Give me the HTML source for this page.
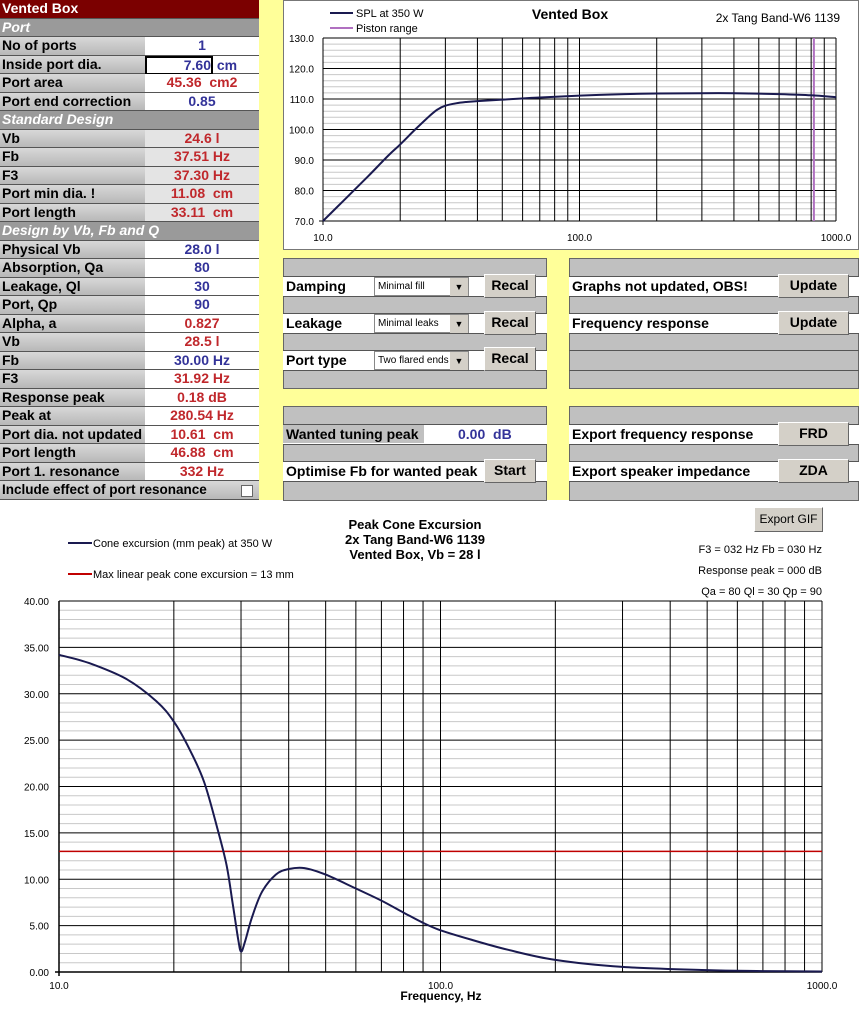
<!DOCTYPE html>
<html><head><meta charset="utf-8">
<style>
body{margin:0;width:859px;height:1023px;overflow:hidden;background:#fff;font-family:"Liberation Sans",Arial,sans-serif;position:relative}
.a{position:absolute;box-sizing:border-box}
.lab{font-weight:bold;font-size:14px;color:#000;background:linear-gradient(#d8d8d8,#b8b8b8);border-bottom:1px solid #555;padding-left:2px;line-height:17px;white-space:nowrap}
.sec{font-weight:bold;font-style:italic;font-size:14px;color:#fff;background:#9a9a9a;border-bottom:1px solid #555;padding-left:2px;line-height:17px}
.val{font-weight:bold;font-size:14px;text-align:center;border-bottom:1px solid #555;line-height:17px;white-space:pre}
.panel{background:#c0c0c0;border:1px solid #666}
.row{background:#fff;border-top:1px solid #555;border-bottom:1px solid #555;font-weight:bold;font-size:14px;line-height:18px;padding-left:3px}
.btn{background:#d4d0c8;border:1px solid #fff;border-right-color:#666;border-bottom-color:#666;font-weight:bold;font-size:14px;text-align:center;line-height:20px}
.sel{background:#fff;border:1px solid #888;font-size:10px;line-height:18px;padding-left:3px}
.arr{position:absolute;right:0;top:0;width:18px;height:18px;background:#d4d0c8;font-size:9px;text-align:center;line-height:18px}
</style></head><body>
<div class="a" style="left:0;top:0;width:283px;height:500px;background:#ffff99"></div>
<div class="a" style="left:283px;top:250px;width:576px;height:250px;background:#ffff99"></div>
<div id="tbl"></div>

<div class="a" style="left:283px;top:0;width:576px;height:250px;background:#fff;border:1px solid #777"></div>
<svg class="a" id="top" style="left:0;top:0" width="859" height="250"></svg>

<div class="a panel" style="left:283px;top:258px;width:264px;height:131px"></div>
<div class="a row" style="left:283px;top:276px;width:264px;height:21px">Damping</div>
<div class="a sel" style="left:374px;top:277px;width:95px;height:19px">Minimal fill<span class="arr">▼</span></div>
<div class="a btn" style="left:484px;top:274px;width:52px;height:24px">Recal</div>
<div class="a row" style="left:283px;top:313px;width:264px;height:21px">Leakage</div>
<div class="a sel" style="left:374px;top:314px;width:95px;height:19px">Minimal leaks<span class="arr">▼</span></div>
<div class="a btn" style="left:484px;top:311px;width:52px;height:24px">Recal</div>
<div class="a row" style="left:283px;top:350px;width:264px;height:21px">Port type</div>
<div class="a sel" style="left:374px;top:351px;width:95px;height:19px">Two flared ends<span class="arr">▼</span></div>
<div class="a btn" style="left:484px;top:347px;width:52px;height:24px">Recal</div>

<div class="a panel" style="left:569px;top:258px;width:290px;height:131px"></div>
<div class="a row" style="left:569px;top:276px;width:290px;height:21px">Graphs not updated, OBS!</div>
<div class="a btn" style="left:778px;top:274px;width:71px;height:24px">Update</div>
<div class="a row" style="left:569px;top:313px;width:290px;height:21px">Frequency response</div>
<div class="a btn" style="left:778px;top:311px;width:71px;height:24px">Update</div>
<div class="a" style="left:569px;top:350px;width:290px;height:21px;border-top:1px solid #555;border-bottom:1px solid #555"></div>

<div class="a panel" style="left:283px;top:406px;width:264px;height:95px"></div>
<div class="a row" style="left:283px;top:424px;width:264px;height:21px"><span style="background:#c0c0c0;display:inline-block;width:138px;margin-left:-3px;padding-left:3px">Wanted tuning peak</span><span style="color:#333399;margin-left:34px">0.00&nbsp; dB</span></div>
<div class="a row" style="left:283px;top:461px;width:264px;height:21px">Optimise Fb for wanted peak</div>
<div class="a btn" style="left:484px;top:459px;width:52px;height:24px">Start</div>

<div class="a panel" style="left:569px;top:406px;width:290px;height:95px"></div>
<div class="a row" style="left:569px;top:424px;width:290px;height:21px">Export frequency response</div>
<div class="a btn" style="left:778px;top:422px;width:71px;height:24px">FRD</div>
<div class="a row" style="left:569px;top:461px;width:290px;height:21px">Export speaker impedance</div>
<div class="a btn" style="left:778px;top:459px;width:71px;height:24px">ZDA</div>

<div class="a btn" style="left:754px;top:507px;width:69px;height:25px;font-weight:normal;font-size:12px;line-height:23px">Export GIF</div>
<svg class="a" id="bot" style="left:0;top:500px" width="859" height="523"></svg>

<script>
// ---------- table ----------
const rowLabels=["Vented Box","Port","No of ports","Inside port dia.","Port area","Port end correction","Standard Design","Vb","Fb","F3","Port min dia. !","Port length","Design by Vb, Fb and Q","Physical Vb","Absorption, Qa","Leakage, Ql","Port, Qp","Alpha, a","Vb","Fb","F3","Response peak","Peak at","Port dia. not updated","Port length","Port 1. resonance","Include effect of port resonance"];
const rowValues=["","","1","7.60 cm","45.36  cm2","0.85","","24.6 l","37.51 Hz","37.30 Hz","11.08  cm","33.11  cm","","28.0 l","80","30","90","0.827","28.5 l","30.00 Hz","31.92 Hz","0.18 dB","280.54 Hz","10.61  cm","46.88  cm","332 Hz",""];
const rowKind=["h","s","b","b","r","b","s","g","g","g","g","g","s","b","b","b","b","r","r","b","r","r","r","r","r","r","c"];
const tbl=document.getElementById('tbl');
const RH=18.5;
rowLabels.forEach((l,i)=>{
  const y=i*RH,k=rowKind[i];
  const d=document.createElement('div');
  
  
  d.className='a';
  if(k==='h'){d.className='a lab';d.style.cssText=`left:0;top:${y}px;width:259px;height:${RH}px;background:#7b0000;color:#fff`;}
  else if(k==='s'){d.className='a sec';d.style.cssText=`left:0;top:${y}px;width:259px;height:${RH}px`;}
  else if(k==='c'){d.className='a lab';d.style.cssText=`left:0;top:${y}px;width:259px;height:${RH}px;font-size:13.5px`;
    const cb=document.createElement('span');
    cb.style.cssText='position:absolute;left:241px;top:4px;width:10px;height:10px;background:#fff;border:1px solid #666';d.appendChild(cb);}
  else {d.className='a lab';d.style.cssText=`left:0;top:${y}px;width:145px;height:${RH}px`;}
  d.appendChild(document.createTextNode(l));
  tbl.appendChild(d);
  if(k==='b'||k==='r'||k==='g'){
    const v=document.createElement('div');
    
    
    v.className='a val';
    const bg=k==='g'?'#e4e4e4':'#fff';
    v.style.cssText=`left:145px;top:${y}px;width:114px;height:${RH}px;background:${bg};color:${k==='b'?'#333399':'#c0282c'}`;
    v.textContent=rowValues[i];
    if(i===3){v.style.textAlign='left';v.innerHTML='<span style="display:inline-block;width:64px;border:2px solid #000;text-align:right;height:15px;line-height:14px">7.60</span> cm';}
    tbl.appendChild(v);
  }
});

// ---------- top SPL chart ----------
const splFreq=[10,12,15,18,20,23,26,28,30,33,36,40,50,70,100,150,200,300,400,600,800,1000];
const splValues=[70,76.6,84.7,91.5,95.1,100.2,104.4,106.6,107.8,108.6,109,109.3,109.8,110.5,111.1,111.6,111.8,111.9,111.9,111.6,111.2,110.6];
const splYTicks=["70.0","80.0","90.0","100.0","110.0","120.0","130.0"];
const splXTicks=["10.0","100.0","1000.0"];
const pistonFreq=[820];
const NS='http://www.w3.org/2000/svg';
function mk(svg,tag,at,name){const e=document.createElementNS(NS,tag);for(const k in at)e.setAttribute(k,at[k]);
  
  
  svg.appendChild(e);return e;}
function smooth(pts){let d='M'+pts[0][0].toFixed(1)+','+pts[0][1].toFixed(1);
  for(let i=0;i<pts.length-1;i++){const p0=pts[Math.max(0,i-1)],p1=pts[i],p2=pts[i+1],p3=pts[Math.min(pts.length-1,i+2)];
    const c1=[p1[0]+(p2[0]-p0[0])/6,p1[1]+(p2[1]-p0[1])/6],c2=[p2[0]-(p3[0]-p1[0])/6,p2[1]-(p3[1]-p1[1])/6];
    d+='C'+c1.map(v=>v.toFixed(1)).join(',')+' '+c2.map(v=>v.toFixed(1)).join(',')+' '+p2[0].toFixed(1)+','+p2[1].toFixed(1);}
  return d;}
const top_=document.getElementById('top');
const tx=f=>323+(Math.log10(f)-1)/2*513, ty=v=>221-(v-70)/60*183;
for(let v=70;v<=130;v+=2){mk(top_,'line',{x1:323,x2:836,y1:ty(v),y2:ty(v),stroke:v%10?'#c8c8c8':'#000','stroke-width':1},'h-grid');}
[1,10,100].forEach(m=>{for(let j=1;j<=9;j++){const f=m*10*j;if(f>1000)break;mk(top_,'line',{x1:tx(f),x2:tx(f),y1:ty(130),y2:ty(70),stroke:'#000','stroke-width':1},'v-grid');}});
mk(top_,'line',{x1:323,x2:323,y1:ty(130),y2:ty(70)+4,stroke:'#000'},'y-axis');
mk(top_,'line',{x1:319,x2:836,y1:ty(70),y2:ty(70),stroke:'#000'},'x-axis');
splYTicks.forEach((t,i)=>{const e=mk(top_,'text',{x:314,y:ty(70+i*10)+4,'text-anchor':'end','font-size':10,fill:'#000'},'y-tick-label');e.textContent=t;});
splXTicks.forEach((t,i)=>{const e=mk(top_,'text',{x:tx(Math.pow(10,i+1)),y:241,'text-anchor':'middle','font-size':10},'x-tick-label');e.textContent=t;});
pistonFreq.forEach(f=>mk(top_,'line',{x1:tx(f),x2:tx(f),y1:ty(130),y2:ty(70),stroke:'#b070c0','stroke-width':2},'piston-range-line'));
mk(top_,'path',{d:smooth(splFreq.map((f,i)=>[tx(f),ty(splValues[i])])),fill:'none',stroke:'#1a1a50','stroke-width':2},'spl-line');
mk(top_,'line',{x1:330,x2:353,y1:13,y2:13,stroke:'#1a1a50','stroke-width':2},'legend-spl-swatch');
mk(top_,'text',{x:356,y:17,'font-size':11},'legend-spl').textContent='SPL at 350 W';
mk(top_,'line',{x1:330,x2:353,y1:28,y2:28,stroke:'#b070c0','stroke-width':2},'legend-piston-swatch');
mk(top_,'text',{x:356,y:32,'font-size':11},'legend-piston').textContent='Piston range';
mk(top_,'text',{x:570,y:19,'font-size':14,'font-weight':'bold','text-anchor':'middle'},'chart-title').textContent='Vented Box';
mk(top_,'text',{x:840,y:22,'font-size':12,'text-anchor':'end'},'speaker-name').textContent='2x Tang Band-W6 1139';

// ---------- bottom excursion chart ----------
const excFreq=[10,12,15,18,20,22,24,26,27.5,28.5,29.5,30,30.7,32,34,37,40,44,50,60,70,80,90,100,120,150,200,300,500,700,1000];
const excValues=[34.2,33.3,31.6,29.2,27,24,20.5,15.5,11.5,7.5,3.5,2.2,3.2,5.8,8.6,10.5,11.1,11.2,10.5,9,7.7,6.4,5.3,4.5,3.5,2.4,1.3,0.55,0.2,0.1,0.05];
const maxLinear=[13];
const excYTicks=["0.00","5.00","10.00","15.00","20.00","25.00","30.00","35.00","40.00"];
const excXTicks=["10.0","100.0","1000.0"];
const bot=document.getElementById('bot');
const bx=f=>59+(Math.log10(f)-1)/2*763, by=v=>472-v/40*371;
for(let v=0;v<=40;v++){mk(bot,'line',{x1:59,x2:822,y1:by(v),y2:by(v),stroke:v%5?'#c8c8c8':'#000','stroke-width':1},'h-grid');}
[1,10,100].forEach(m=>{for(let j=1;j<=9;j++){const f=m*10*j;if(f>1000)break;mk(bot,'line',{x1:bx(f),x2:bx(f),y1:by(40),y2:by(0),stroke:'#000','stroke-width':1},'v-grid');}});
mk(bot,'line',{x1:59,x2:59,y1:by(40),y2:by(0)+4,stroke:'#000','stroke-width':1.5},'y-axis');
mk(bot,'line',{x1:55,x2:822,y1:by(0),y2:by(0),stroke:'#000','stroke-width':1.5},'x-axis');
excYTicks.forEach((t,i)=>{mk(bot,'text',{x:49,y:by(i*5)+4,'text-anchor':'end','font-size':10},'y-tick-label').textContent=t;});
excXTicks.forEach((t,i)=>{mk(bot,'text',{x:bx(Math.pow(10,i+1)),y:489,'text-anchor':'middle','font-size':10},'x-tick-label').textContent=t;});
maxLinear.forEach(v=>mk(bot,'line',{x1:59,x2:822,y1:by(v),y2:by(v),stroke:'#c00000','stroke-width':1.5},'max-linear-line'));
mk(bot,'path',{d:smooth(excFreq.map((f,i)=>[bx(f),by(excValues[i])])),fill:'none',stroke:'#1a1a50','stroke-width':2},'excursion-line');
mk(bot,'text',{x:441,y:500,'font-size':12,'font-weight':'bold','text-anchor':'middle'},'x-axis-title').textContent='Frequency, Hz';
['Peak Cone Excursion','2x Tang Band-W6 1139','Vented Box, Vb = 28 l'].forEach((t,i)=>mk(bot,'text',{x:415,y:29+i*15,'font-size':13,'font-weight':'bold','text-anchor':'middle'},'chart-title').textContent=t);
mk(bot,'line',{x1:68,x2:92,y1:43,y2:43,stroke:'#1a1a50','stroke-width':2},'legend-excursion-swatch');
mk(bot,'text',{x:93,y:47,'font-size':11},'legend-excursion').textContent='Cone excursion (mm peak) at 350 W';
mk(bot,'line',{x1:68,x2:92,y1:74,y2:74,stroke:'#c00000','stroke-width':2},'legend-max-swatch');
mk(bot,'text',{x:93,y:78,'font-size':11},'legend-max').textContent='Max linear peak cone excursion = 13 mm';
['F3 = 032 Hz  Fb = 030 Hz','Response peak = 000 dB','Qa = 80  Ql = 30  Qp = 90'].forEach((t,i)=>mk(bot,'text',{x:822,y:53+i*21,'font-size':11,'text-anchor':'end','xml:space':'preserve'},'summary-text').textContent=t);
</script>
</body></html>
